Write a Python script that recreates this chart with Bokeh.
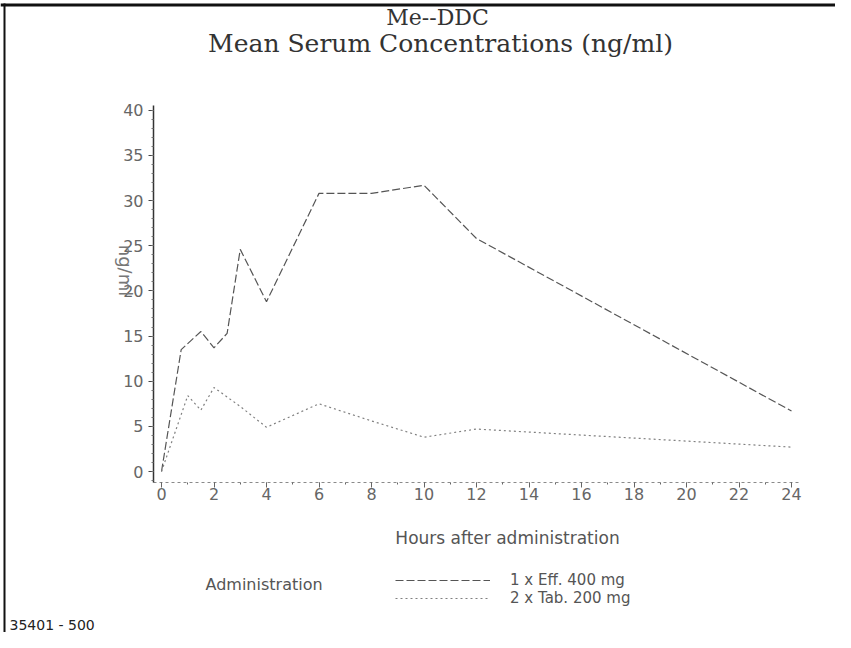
from bokeh.plotting import figure
from bokeh.models import (Range1d, SingleIntervalTicker, Label, Legend, LegendItem,
                          BoxAnnotation)
from bokeh.embed import file_html
from bokeh.resources import INLINE

# ---- data ----
eff_hours = [0, 0.75, 1.5, 2, 2.5, 3, 4, 6, 8, 10, 12, 24]
eff_conc = [0, 13.5, 15.5, 13.7, 15.3, 24.6, 18.8, 30.8, 30.8, 31.7, 25.8, 6.7]

tab_hours = [0, 1, 1.5, 2, 3, 4, 6, 8, 10, 12, 24]
tab_conc = [0, 8.4, 6.8, 9.3, 7.2, 4.9, 7.5, 5.6, 3.8, 4.7, 2.7]

eff_label = "1 x Eff. 400 mg"
tab_label = "2 x Tab. 200 mg"
title_1 = "Me--DDC"
title_2 = "Mean Serum Concentrations (ng/ml)"
x_title = "Hours after administration"
y_title = "ng/ml"
legend_title = "Administration"
footer = "35401 - 500"

W, H = 835, 632
TXT = "#555555"
SANS = "DejaVu Sans"
SERIF = "DejaVu Serif"

# plot area spans the whole canvas; axes are drawn at fixed positions inside it
PX_X = 26.25   # pixels per hour
PX_Y = 9.03    # pixels per ng/ml
X0, Y0 = 161, 471  # canvas position of (0, 0)
x_start = -X0 / PX_X
y_start = -(H - Y0) / PX_Y

p = figure(width=W, height=H, output_backend="svg", toolbar_location=None,
           x_range=Range1d(x_start, x_start + W / PX_X),
           y_range=Range1d(y_start, y_start + H / PX_Y),
           min_border=0)
p.title.visible = False
p.grid.visible = False
p.outline_line_color = None
p.background_fill_color = "white"
p.border_fill_color = "white"

x_axis_pos = -11 / PX_Y      # x axis drawn slightly below zero
y_axis_pos = -8 / PX_X       # y axis drawn slightly left of zero

# x axis
xa = p.xaxis[0]
xa.fixed_location = x_axis_pos
xa.bounds = (y_axis_pos, 24.343)
xa.ticker = SingleIntervalTicker(interval=2, num_minor_ticks=2)
xa.axis_line_color = "#8a8a8a"
xa.axis_line_dash = "3 3"
xa.major_tick_line_color = "#666666"
xa.minor_tick_line_color = "#666666"
xa.major_tick_in = 0
xa.major_tick_out = 5
xa.minor_tick_in = 0
xa.minor_tick_out = 2
xa.major_label_standoff = 0
xa.major_label_text_font = SANS
xa.major_label_text_font_size = "16px"
xa.major_label_text_color = "#666666"

# y axis
ya = p.yaxis[0]
ya.fixed_location = y_axis_pos
ya.bounds = (x_axis_pos, 40.55)
ya.ticker = SingleIntervalTicker(interval=5, num_minor_ticks=5)
ya.axis_line_color = "#333333"
ya.axis_line_width = 1.5
ya.major_tick_line_color = "#444444"
ya.minor_tick_line_color = "#777777"
ya.major_tick_in = 0
ya.major_tick_out = 5
ya.minor_tick_in = 0
ya.minor_tick_out = 2
ya.major_label_standoff = 5
ya.major_label_text_font = SANS
ya.major_label_text_font_size = "16px"
ya.major_label_text_color = "#666666"

# data lines
r_eff = p.line(eff_hours, eff_conc, line_color="#555555", line_width=1.2,
               line_dash="8 3")
r_tab = p.line(tab_hours, tab_conc, line_color="#808080", line_width=1.2,
               line_dash="2 3")


def sx(img_x):
    return img_x


def sy(img_y):
    return H - img_y


legend = Legend(items=[LegendItem(label=eff_label, renderers=[r_eff]),
                       LegendItem(label=tab_label, renderers=[r_tab])],
                location=(sx(395), sy(607)), orientation="vertical",
                glyph_width=95, glyph_height=14, label_height=14,
                label_standoff=20, spacing=0, padding=0, margin=0,
                border_line_color=None, background_fill_alpha=0,
                label_text_font=SANS, label_text_font_size="15px",
                label_text_color=TXT)
p.add_layout(legend, "center")


def lab(text, x, y, size, font=SANS, align="center", angle=0, color=TXT):
    p.add_layout(Label(x=sx(x), y=sy(y), x_units="screen", y_units="screen",
                       text=text, text_font=font, text_font_size=size,
                       text_color=color, text_align=align,
                       text_baseline="middle", angle=angle))


lab(title_1, 437, 17, "22px", font=SERIF, color="#333333")
lab(title_2, 440, 43, "25px", font=SERIF, color="#333333")
lab(x_title, 507, 537, "17px")
lab(y_title, 125, 270, "18px", angle=-1.5708, color="#777777")
lab(legend_title, 205, 584, "16px", align="left")
lab(footer, 9, 624, "14px", align="left", color="#222222")

# page frame lines (top and left edge)
p.add_layout(BoxAnnotation(left=0, right=W, top=sy(3), bottom=sy(6),
                           left_units="screen", right_units="screen",
                           top_units="screen", bottom_units="screen",
                           fill_color="#111111", fill_alpha=1, line_color=None))
p.add_layout(BoxAnnotation(left=3, right=5, top=sy(3), bottom=0,
                           left_units="screen", right_units="screen",
                           top_units="screen", bottom_units="screen",
                           fill_color="#111111", fill_alpha=1, line_color=None))

open("out.html", "w").write(file_html(p, INLINE))
